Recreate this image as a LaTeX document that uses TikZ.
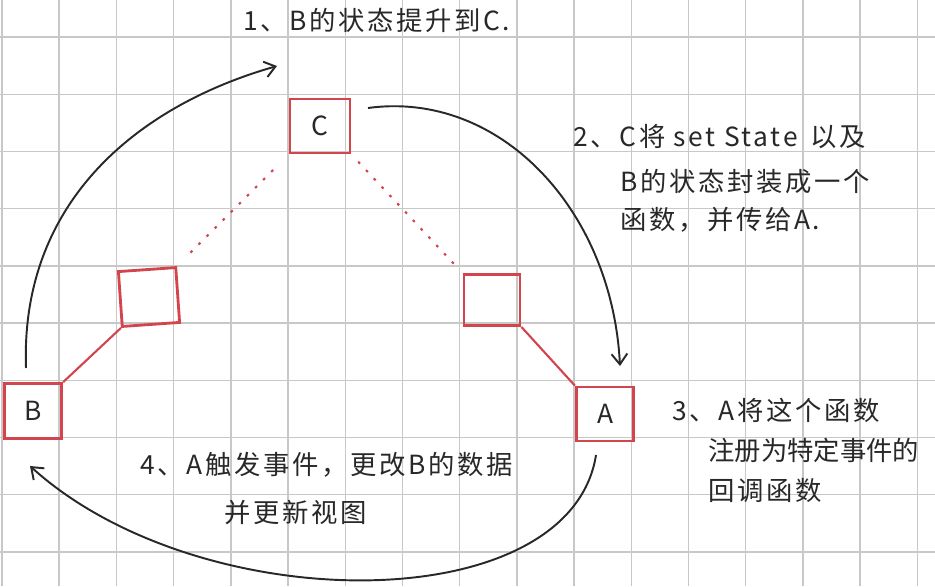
\documentclass[tikz,border=0pt]{standalone}
\usepackage{fontspec}
\setmainfont{Noto Sans CJK SC}[LetterSpace=10]
\usetikzlibrary{arrows.meta}
\definecolor{boxred}{RGB}{211,68,77}
\definecolor{ink}{RGB}{40,40,40}
\definecolor{gridgray}{RGB}{200,200,200}
\begin{document}
\begin{tikzpicture}[x=0.02cm,y=-0.02cm,
    grid/.style={gridgray,line width=0.8pt},
    box/.style={draw=boxred,line width=1.6pt,minimum width=1.15cm,minimum height=1.1cm,inner sep=0pt,text=ink,font=\fontsize{15}{15}\selectfont},
    note/.style={anchor=west,inner sep=0pt,text=ink,font=\fontsize{15}{15}\selectfont},
    link/.style={boxred,line width=1.2pt},
    flow/.style={ink,line width=1.1pt,-{Straight Barb[length=6pt,width=9pt]}}]
  \fill[white] (0,0) rectangle (935,586);
  \useasboundingbox (0,0) rectangle (935,586);
  % grid paper
  \foreach \i in {0,...,16} \draw[grid] (2+57.2*\i,0) -- (2+57.2*\i,586);
  \foreach \j in {0,...,9} \draw[grid] (0,37+57.2*\j) -- (935,37+57.2*\j);

  % components
  \node[box,minimum width=1.2cm,minimum height=1.08cm] (c) at (320,126) {C};
  \node[box,rotate=4] (l) at (149,297) {};
  \node[box,minimum width=1.12cm,minimum height=1.02cm] (r) at (492,300) {};
  \node[box] (b) at (33,411) {B};
  \node[box,minimum height=1.08cm] (a) at (605,414) {A};

  \draw[link] (b.north east) -- (l.south west);
  \draw[link] (r.south east) -- (a.north west);
  \draw[link,dash pattern=on 1.5pt off 5pt,shorten <=0.38cm,shorten >=0.38cm] (l.north east) -- (c.south west);
  \draw[link,dash pattern=on 1.5pt off 5pt,shorten <=0.2cm,shorten >=0.18cm] (c.south east) -- (r.north west);

  % steps
  \coordinate (s1) at (26,368);
  \coordinate (t1) at (277,66);
  \coordinate (s2) at (368,108);
  \coordinate (t2) at (620,366);
  \coordinate (s4) at (596,455);
  \coordinate (t4) at (30,466);
  \draw[flow] (s1) .. controls (20,200) and (140,105) .. (t1);
  \draw[flow] (s2) .. controls (500,90) and (612,210) .. (t2);
  \draw[flow] (s4) .. controls (570,620) and (200,620) .. (t4);

  \node[note] (n1) at (243,20) {1、B的状态提升到C.};
  \node[note] (n2a) at (573,137) {2、C将 set State\enspace 以及};
  \node[note] (n2b) at (620,182) {B的状态封装成一个};
  \node[note] (n2c) at (620,220) {函数，并传给A.};
  \node[note] (n3a) at (672,410) {3、A将这个函数};
  \node[note,font=\fontsize{15}{15}\selectfont\addfontfeature{LetterSpace=0}] (n3b) at (708,450) {注册为特定事件的};
  \node[note] (n3c) at (708,490) {回调函数};
  \node[note] (n4a) at (140,465) {4、A触发事件，更改B的数据};
  \node[note] (n4b) at (224,513) {并更新视图};
\end{tikzpicture}
\end{document}
